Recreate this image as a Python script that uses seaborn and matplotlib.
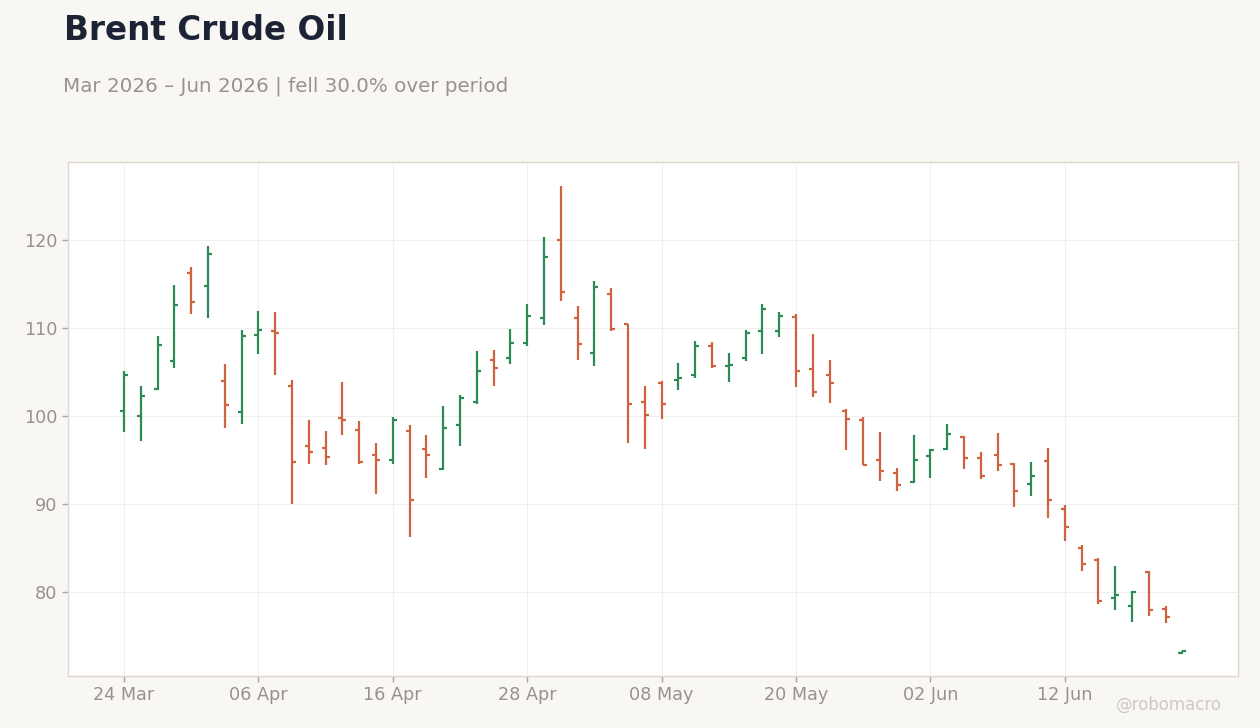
import numpy as np
import pandas as pd
import matplotlib
matplotlib.use("Agg")
import matplotlib.pyplot as plt
import seaborn as sns

# ---- data ----
holidays = ["2026-04-03", "2026-05-25", "2026-06-19"]
dates = [d for d in pd.bdate_range("2026-03-24", "2026-06-24") if d.strftime("%Y-%m-%d") not in holidays]

opens = [100.6, 100.0, 103.1, 106.3, 116.3, 114.8, 104.0, 100.4, 109.2, 109.7,
         103.4, 96.6, 96.4, 99.8, 98.4, 95.6, 95.0, 98.3, 96.3, 94.0,
         99.0, 101.6, 106.4, 106.6, 108.3, 111.1, 120.0, 111.1, 107.2, 113.9,
         110.5, 101.6, 103.7, 104.1, 104.6, 107.9, 105.7, 106.6, 109.7, 109.6,
         111.3, 105.3, 104.6, 100.6, 99.5, 95.0, 93.5, 92.5, 95.5, 96.2,
         97.6, 95.2, 95.6, 94.5, 92.3, 94.9, 89.4, 85.0, 83.6, 79.3,
         78.4, 82.3, 78.1, 73.1]
highs = [105.1, 103.4, 109.1, 114.9, 116.9, 119.3, 105.9, 109.8, 111.9, 111.8,
         104.1, 99.5, 98.3, 103.9, 99.4, 96.9, 99.9, 99.0, 97.8, 101.1,
         102.4, 107.4, 107.5, 109.9, 112.7, 120.3, 126.1, 112.5, 115.3, 114.5,
         110.5, 103.4, 104.0, 106.0, 108.5, 108.4, 107.2, 109.8, 112.7, 111.8,
         111.6, 109.3, 106.4, 100.8, 99.9, 98.2, 94.1, 97.8, 96.2, 99.1,
         97.7, 95.9, 98.1, 94.6, 94.8, 96.4, 89.9, 85.3, 83.9, 83.0,
         80.1, 82.4, 78.4, 73.3]
lows = [98.2, 97.2, 102.9, 105.4, 111.6, 111.1, 98.6, 99.1, 107.0, 104.7,
        90.0, 94.5, 94.4, 97.8, 94.5, 91.1, 94.5, 86.2, 92.9, 93.9,
        96.6, 101.4, 103.4, 105.9, 108.0, 110.3, 113.1, 106.4, 105.7, 109.7,
        96.9, 96.2, 99.6, 102.9, 104.3, 105.4, 103.9, 106.2, 107.0, 109.0,
        103.3, 102.2, 101.5, 96.1, 94.4, 92.6, 91.5, 92.4, 92.9, 96.1,
        94.0, 92.8, 93.8, 89.7, 90.9, 88.4, 85.8, 82.4, 78.6, 77.9,
        76.6, 77.3, 76.5, 73.0]
closes = [104.6, 102.3, 108.1, 112.6, 112.9, 118.4, 101.3, 109.1, 109.8, 109.4,
          94.8, 95.9, 95.3, 99.5, 94.8, 95.0, 99.5, 90.5, 95.6, 98.6,
          102.0, 105.1, 105.4, 108.3, 111.4, 118.1, 114.1, 108.2, 114.6, 109.9,
          101.4, 100.1, 101.4, 104.3, 107.9, 105.7, 105.8, 109.4, 112.2, 111.4,
          105.1, 102.7, 103.7, 99.7, 94.4, 93.8, 92.1, 95.0, 96.1, 97.9,
          95.2, 93.2, 94.4, 91.5, 93.2, 90.5, 87.4, 83.2, 79.0, 79.6,
          80.0, 78.0, 77.2, 73.3]

UP = "#2e8b57"
DOWN = "#cf623f"
BG = "#f9f7f4"
GREY = "#99928c"

df = pd.DataFrame({"date": dates, "open": opens, "high": highs, "low": lows, "close": closes})
df["pos"] = np.arange(len(df))
df["color"] = np.where(df["close"] >= df["open"], UP, DOWN)

# ---- style ----
sns.set_theme(style="whitegrid")
plt.rcParams["font.family"] = ["DejaVu Sans"]

fig = plt.figure(figsize=(12.6, 7.28), dpi=100, facecolor=BG)
ax = fig.add_axes([0.054, 0.0714, 0.9286, 0.7061])
ax.set_facecolor("white")

# OHLC bars
tick = 0.24
ax.vlines(df["pos"], df["low"], df["high"], colors=df["color"], linewidth=1.6)
ax.hlines(df["open"], df["pos"] - tick, df["pos"], colors=df["color"], linewidth=1.6)
ax.hlines(df["close"], df["pos"], df["pos"] + tick, colors=df["color"], linewidth=1.6)

ax.set_xlim(-3.33, 66.31)
ax.set_ylim(70.45, 128.86)

ax.set_xticks(df["pos"][::8])
ax.set_xticklabels([d.strftime("%d %b") for d in df["date"][::8]])
ax.set_yticks([80, 90, 100, 110, 120])

ax.grid(True, color="#efefef", linewidth=0.8)
for s in ax.spines.values():
    s.set_visible(True)
    s.set_color("#ddd7d0")
    s.set_linewidth(1.0)
ax.tick_params(axis="both", colors="#aaa39d", labelcolor=GREY, labelsize=12.7,
               length=4, width=1, bottom=True, left=True)
ax.set_xlabel("")
ax.set_ylabel("")

# titles
fig.text(64 / 1260, 1 - 40 / 728, "Brent Crude Oil", fontsize=23.5, fontweight="bold",
         color="#1b2334", ha="left", va="baseline")
fig.text(63 / 1260, 1 - 92 / 728, "Mar 2026 – Jun 2026 | fell 30.0% over period",
         fontsize=14.3, color=GREY, ha="left", va="baseline")
fig.text(1222 / 1260, 1 - 710 / 728, "@robomacro", fontsize=12, color="#cdc9c4",
         ha="right", va="baseline")

fig.savefig("out.png", dpi=100, facecolor=BG)
